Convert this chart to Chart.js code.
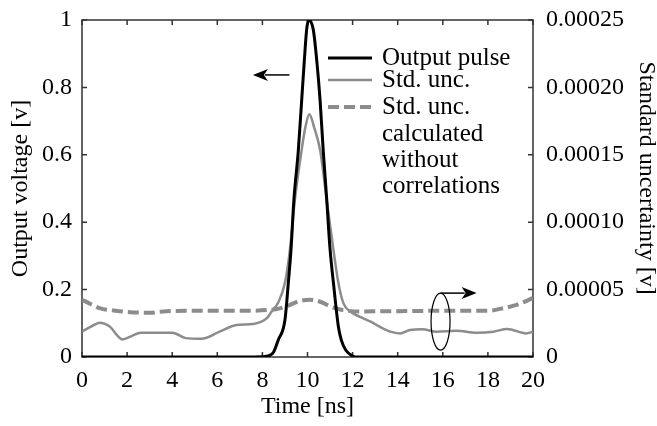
<!DOCTYPE html>
<html>
<head>
<meta charset="utf-8">
<script src="https://cdn.jsdelivr.net/npm/chart.js@4.4.1/dist/chart.umd.min.js"></script>
<style>
  body { margin: 0; background: #fff; }
  #wrap { width: 657px; height: 426px; }
</style>
</head>
<body>
<div id="wrap"><canvas id="myChart" width="657" height="426"></canvas></div>
<script>
// Output pulse, left axis [v]
const pulseT = [0, 2, 4, 6, 8, 8.3, 8.5, 8.7, 9.0, 9.15, 9.27, 9.4, 9.59, 9.74, 9.86, 9.96, 10.05, 10.26, 10.41, 10.56, 10.7, 10.85, 11.0, 11.15, 11.37, 11.5, 11.7, 12.0, 12.2, 14, 16, 18, 20];
const pulseV = [0, 0, 0, 0, 0.001, 0.004, 0.015, 0.05, 0.11, 0.22, 0.32, 0.47, 0.61, 0.76, 0.88, 0.97, 1.0, 0.97, 0.88, 0.76, 0.61, 0.47, 0.32, 0.22, 0.09, 0.05, 0.02, 0.003, 0, 0, 0, 0, 0];

// Std. unc., right axis [v]
const stdT = [0, 0.4, 0.8, 1.2, 1.8, 2.2, 2.6, 3.2, 4.0, 4.6, 5.3, 6.1, 6.85, 7.6, 8.2, 8.41, 8.69, 9.0, 9.22, 9.44, 9.74, 9.9, 10.08, 10.3, 10.56, 10.85, 11.15, 11.37, 11.59, 11.9, 12.3, 12.8, 13.2, 13.67, 14.1, 14.55, 15.1, 15.7, 16.6, 17.5, 18.25, 18.85, 19.7, 20];
const stdV = [1.88e-5, 2.25e-5, 2.55e-5, 2.3e-5, 1.3e-5, 1.55e-5, 1.8e-5, 1.8e-5, 1.8e-5, 1.4e-5, 1.35e-5, 1.88e-5, 2.38e-5, 2.45e-5, 2.88e-5, 3.38e-5, 4.0e-5, 5.5e-5, 7.95e-5, 11.65e-5, 15.35e-5, 17.0e-5, 18.0e-5, 17.0e-5, 15.35e-5, 11.65e-5, 7.95e-5, 5.5e-5, 4.0e-5, 3.38e-5, 3.0e-5, 2.63e-5, 2.25e-5, 1.88e-5, 1.75e-5, 2.0e-5, 2.05e-5, 1.88e-5, 1.95e-5, 1.8e-5, 1.88e-5, 2.08e-5, 1.75e-5, 1.88e-5];

// Std. unc. calculated without correlations, right axis [v]
const noCorrT = [0, 0.3, 0.78, 1.5, 3.0, 3.6, 5, 7, 8.6, 9.2, 9.6, 10.1, 10.6, 11.0, 11.5, 12.3, 14, 16, 18, 18.7, 19.3, 20];
const noCorrV = [4.25e-5, 4.0e-5, 3.63e-5, 3.43e-5, 3.28e-5, 3.38e-5, 3.43e-5, 3.43e-5, 3.55e-5, 3.85e-5, 4.13e-5, 4.25e-5, 4.08e-5, 3.75e-5, 3.5e-5, 3.38e-5, 3.4e-5, 3.43e-5, 3.43e-5, 3.63e-5, 3.88e-5, 4.38e-5];

const legendRows = ['Output pulse', 'Std. unc.', 'Std. unc.', 'calculated', 'without', 'correlations'];
const rightTitle = 'Standard uncertainty [v]';

const FONT = '"Liberation Serif", "Times New Roman", serif';
const GRAY = '#8c8c8c';

const toPoints = (xs, ys) => xs.map((x, i) => ({ x: x, y: ys[i] }));

// Frame with inward tick marks, arrows, ellipse, legend and right title
const decorations = {
    id: 'decorations',
    beforeDatasetsDraw(chart) {
        const { ctx, chartArea: a, scales } = chart;
        ctx.save();
        ctx.strokeStyle = '#333';
        ctx.lineWidth = 1.5;
        ctx.strokeRect(a.left, a.top, a.right - a.left, a.bottom - a.top);
        ctx.beginPath();
        scales.x.ticks.forEach(t => {
            const px = scales.x.getPixelForValue(t.value);
            ctx.moveTo(px, a.bottom); ctx.lineTo(px, a.bottom - 5);
            ctx.moveTo(px, a.top); ctx.lineTo(px, a.top + 5);
        });
        scales.y.ticks.forEach(t => {
            const py = scales.y.getPixelForValue(t.value);
            ctx.moveTo(a.left, py); ctx.lineTo(a.left + 5, py);
        });
        scales.y2.ticks.forEach(t => {
            const py = scales.y2.getPixelForValue(t.value);
            ctx.moveTo(a.right, py); ctx.lineTo(a.right - 5, py);
        });
        ctx.stroke();
        ctx.restore();
    },
    afterDraw(chart) {
        const { ctx, chartArea: a, scales } = chart;
        const x = scales.x, y = scales.y;
        ctx.save();

        function arrow(x0, x1, py) {
            const dir = Math.sign(x1 - x0);
            ctx.strokeStyle = '#000';
            ctx.fillStyle = '#000';
            ctx.lineWidth = 1.5;
            ctx.beginPath();
            ctx.moveTo(x0, py);
            ctx.lineTo(x1 - dir * 12, py);
            ctx.stroke();
            ctx.beginPath();
            ctx.moveTo(x1, py);
            ctx.lineTo(x1 - dir * 15, py - 6);
            ctx.lineTo(x1 - dir * 11, py);
            ctx.lineTo(x1 - dir * 15, py + 6);
            ctx.closePath();
            ctx.fill();
        }

        // pulse -> left axis
        arrow(x.getPixelForValue(9.2), x.getPixelForValue(7.58), y.getPixelForValue(0.837));

        // uncertainty -> right axis
        const ex = x.getPixelForValue(15.9), ey = y.getPixelForValue(0.105);
        ctx.strokeStyle = '#000';
        ctx.lineWidth = 1.2;
        ctx.beginPath();
        ctx.ellipse(ex, ey, 9.5, 28.5, 0, 0, Math.PI * 2);
        ctx.stroke();
        arrow(ex, x.getPixelForValue(17.5), ey - 28.5);

        // legend
        const lx0 = a.right - 205, lx1 = a.right - 161, tx = a.right - 151;
        const rowY = [58, 80, 107, 134, 160, 186];
        ctx.lineCap = 'butt';
        ctx.strokeStyle = '#000'; ctx.lineWidth = 3; ctx.setLineDash([]);
        ctx.beginPath(); ctx.moveTo(lx0, rowY[0]); ctx.lineTo(lx1, rowY[0]); ctx.stroke();
        ctx.strokeStyle = GRAY; ctx.lineWidth = 2.5;
        ctx.beginPath(); ctx.moveTo(lx0, rowY[1]); ctx.lineTo(lx1, rowY[1]); ctx.stroke();
        ctx.lineWidth = 4; ctx.setLineDash([11, 5]);
        ctx.beginPath(); ctx.moveTo(lx0, rowY[2]); ctx.lineTo(lx1, rowY[2]); ctx.stroke();
        ctx.setLineDash([]);
        ctx.fillStyle = '#000';
        ctx.font = '25px ' + FONT;
        ctx.textAlign = 'left';
        ctx.textBaseline = 'middle';
        legendRows.forEach((txt, i) => ctx.fillText(txt, tx, rowY[i]));

        // right axis title, reads top to bottom
        ctx.font = '24px ' + FONT;
        ctx.textAlign = 'center';
        ctx.translate(646, 178);
        ctx.rotate(Math.PI / 2);
        ctx.fillText(rightTitle, 0, 0);
        ctx.restore();
    }
};

// fixed axis sizes so the plot box sits where it does in the figure
function fitVertical(width) {
    return scale => {
        scale.width = width;
        scale.paddingTop = 0;
        scale.paddingBottom = 0;
    };
}

const ctx = document.getElementById('myChart').getContext('2d');
const myChart = new Chart(ctx, {
    type: 'line',
    data: {
        datasets: [{
            label: 'Output pulse',
            data: toPoints(pulseT, pulseV),
            yAxisID: 'y',
            borderColor: '#000',
            borderWidth: 3,
            pointRadius: 0,
            cubicInterpolationMode: 'monotone'
        }, {
            label: 'Std. unc.',
            data: toPoints(stdT, stdV),
            yAxisID: 'y2',
            borderColor: GRAY,
            borderWidth: 2.5,
            pointRadius: 0,
            cubicInterpolationMode: 'monotone'
        }, {
            label: 'Std. unc. calculated without correlations',
            data: toPoints(noCorrT, noCorrV),
            yAxisID: 'y2',
            borderColor: GRAY,
            borderWidth: 4,
            borderDash: [11, 5],
            pointRadius: 0,
            cubicInterpolationMode: 'monotone'
        }]
    },
    options: {
        responsive: false,
        animation: false,
        layout: { padding: { top: 20, left: 0, right: 0, bottom: 0 } },
        plugins: { legend: { display: false }, tooltip: { enabled: false } },
        scales: {
            x: {
                type: 'linear',
                min: 0, max: 20,
                grid: { display: false, drawTicks: false },
                border: { display: false },
                ticks: { stepSize: 2, padding: 9, color: '#000', font: { family: FONT, size: 24 } },
                title: { display: true, text: 'Time [ns]', color: '#000', padding: { top: 0, bottom: 5 }, font: { family: FONT, size: 24 } },
                afterFit(scale) {
                    scale.height = 69;
                    scale.paddingLeft = 0;
                    scale.paddingRight = 0;
                }
            },
            y: {
                position: 'left',
                min: 0, max: 1,
                grid: { display: false, drawTicks: false },
                border: { display: false },
                ticks: {
                    stepSize: 0.2, padding: 10, color: '#000', font: { family: FONT, size: 24 },
                    callback: v => (v === 0 || v === 1) ? String(v) : v.toFixed(1)
                },
                title: { display: true, text: 'Output voltage [v]', color: '#000', padding: { top: 6, bottom: 0 }, font: { family: FONT, size: 24 } },
                afterFit: fitVertical(82)
            },
            y2: {
                position: 'right',
                min: 0, max: 0.00025,
                grid: { display: false, drawTicks: false },
                border: { display: false },
                ticks: {
                    stepSize: 0.00005, padding: 13, color: '#000', font: { family: FONT, size: 24 },
                    callback: v => Math.abs(v) < 1e-12 ? '0' : v.toFixed(5)
                },
                afterFit: fitVertical(124)
            }
        }
    },
    plugins: [decorations]
});
</script>
</body>
</html>
